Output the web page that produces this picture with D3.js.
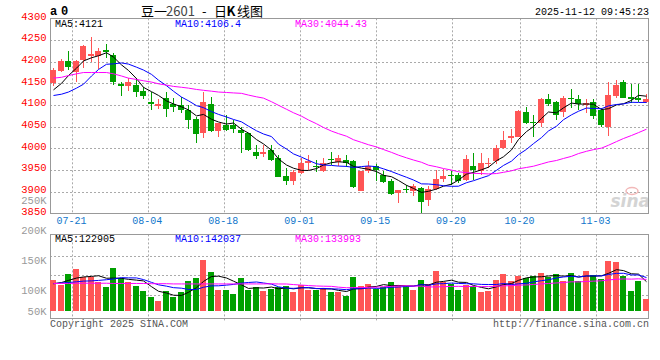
<!DOCTYPE html>
<html><head><meta charset="utf-8">
<script src="https://cdn.jsdelivr.net/npm/d3@7/dist/d3.min.js"></script>
<style>body{margin:0;background:#fff}svg{display:block}</style>
</head><body><svg id="c" width="660" height="360"></svg>
<script>
// ---------------- data ----------------
const dates = ["07-16","07-17","07-18","07-21","07-22","07-23","07-24","07-25","07-28","07-29",
"07-30","07-31","08-01","08-04","08-05","08-06","08-07","08-08","08-11","08-12",
"08-13","08-14","08-15","08-18","08-19","08-20","08-21","08-22","08-25","08-26",
"08-27","08-28","08-29","09-01","09-02","09-03","09-04","09-05","09-08","09-09",
"09-10","09-11","09-12","09-15","09-16","09-17","09-18","09-19","09-22","09-23",
"09-24","09-25","09-26","09-29","09-30","10-09","10-10","10-13","10-14","10-15",
"10-16","10-17","10-20","10-21","10-22","10-23","10-24","10-27","10-28","10-29",
"10-30","10-31","11-03","11-04","11-05","11-06","11-07","11-10","11-11","11-12"];
const open  = [4150,4179,4202,4177,4204,4214,4214,4227,4215,4148, 4145,4146,4133,4108,4098,4117,4102,4100,4089,4068,
4035,4102,4040,4054,4055,4042,4035,3992,3988,3996, 3977,3936,3926,3944,3966,3960,3949,3976,3969,3973,
3970,3903,3947,3960,3939,3925,3897,3907,3902,3908, 3881,3906,3930,3939,3939,3927,3960,3949,3966,3972,
4000,4025,4027,4085,4062,4058,4113,4106,4083,4117, 4113,4100,4108,4089,4050,4121,4152,4118,4116,4108];
const high  = [4186,4206,4225,4205,4238,4258,4231,4241,4219,4154, 4162,4162,4142,4131,4113,4131,4116,4118,4100,4072,
4131,4118,4059,4077,4065,4050,4036,4008,4008,4008, 3985,3954,3950,3977,3985,3973,3977,3992,3986,3985,
3973,3948,3970,3963,3949,3929,3905,3916,3918,3910, 3914,3950,3952,3947,3943,3985,3990,3990,3977,4008,
4040,4044,4089,4095,4077,4116,4126,4110,4121,4137, 4123,4113,4113,4093,4152,4158,4158,4149,4149,4125];
const low   = [4144,4177,4181,4152,4185,4200,4183,4208,4146,4121, 4132,4119,4114,4089,4092,4073,4085,4081,4044,4012,
4025,4038,4027,4041,4035,3989,3994,3976,3981,3971, 3933,3916,3916,3942,3950,3946,3946,3962,3960,3958,
3908,3901,3943,3925,3921,3893,3875,3897,3890,3852, 3867,3904,3923,3916,3921,3926,3927,3939,3954,3964,
3998,4013,4026,4056,4027,4050,4098,4066,4072,4093, 4089,4081,4068,4050,4029,4116,4116,4104,4106,4104];
const close = [4181,4202,4188,4202,4235,4218,4225,4223,4152,4145, 4154,4131,4122,4102,4102,4091,4096,4089,4066,4033,
4108,4040,4058,4042,4045,4036,3996,3983,3992,3973, 3935,3926,3946,3967,3972,3957,3967,3973,3977,3966,
3910,3947,3960,3950,3923,3894,3904,3904,3914,3877, 3907,3930,3937,3937,3925,3975,3950,3967,3967,4000,
4020,4029,4087,4058,4058,4114,4103,4077,4116,4113, 4102,4104,4075,4054,4123,4146,4117,4114,4112,4113];
const volume = [131000,109000,156000,178000,145000,142000,124000,102000,182000,139000,
121000,107000,85000,60000,41000,84000,60000,80000,127000,139000,
217000,165000,88000,88000,71000,139000,88000,101000,84000,92000,
101000,107000,81000,109000,88000,88000,98000,81000,78000,63000,
144000,105000,114000,91000,102000,122000,109000,105000,88000,131000,
114000,169000,122000,114000,88000,109000,105000,80000,84000,131000,
156000,127000,148000,139000,148000,161000,144000,156000,127000,161000,
127000,169000,152000,135000,212000,206000,149000,84000,128000,50000];
const priceMa5Head  = [4135,4150,4168,4185];
const priceMa10Head = [4122,4125,4130,4139,4148,4167,4182,4194,4195];
const priceMa30Head = [4162,4164,4168,4172,4175,4175,4175,4175,4172,4167,4162,4159,4156,4153,4149,
4146,4143,4141,4139,4136,4134,4132,4130,4129,4128,4127,4123,4119,4116];
const volMa5Head  = [115000,120000,129000,139000];
const volMa10Head = [115000,118000,120000,123000,126000,127000,129000,132000,135000];
const volMa30Head = [116000,116000,116000,117000,117000,117000,117000,117000,116000,116000,116000,116000,116000,115000,
115000,115000,114000,114000,114000,114000,114000,114000,114000,114000,114000,114000,114000,114000,114000];
const priceTicks = [3850,3900,3950,4000,4050,4100,4150,4200,4250,4300];
const priceGrid  = [3900,3950,4000,4050,4100,4150,4200,4250];
const volTicks   = [50000,100000,150000,200000,250000];
const volTickLabels = ["50K","100K","150K","200K","250K"];
const dateTicks  = ["07-21","08-04","08-18","09-01","09-15","09-29","10-20","11-03"];
const priceLegend = ["MA5:4121","MA10:4106.4","MA30:4044.43"];
const volLegend   = ["MA5:122905","MA10:142037","MA30:133993"];
const timeStamp = "2025-11-12 09:45:23";
const titleParts = ["豆一", "2601", "-", "日", "K", "线图"];

// ---------------- drawing ----------------
const svg = d3.select("#c");
const MONO = "'Liberation Mono','DejaVu Sans Mono',monospace";
const RED = "#ff5555", GREEN = "#00a000", GRID = "#aaaaaa", FRAME = "#999999";
const N = dates.length;
const L = 50, R = 650, PT = 18.3, PB = 213.5, VT = 234.4, VB = 318, VBASE = 310.7;

const x = d3.scaleBand().domain(d3.range(N)).range([L, R]);
const xt = d3.scaleLinear().domain([0, N - 1]).range([L - 0.4, R - 0.4]);
const y = d3.scaleLinear().domain([3850, 4300]).range([PB, PT]);
const vy = d3.scaleLinear().domain([0, 325000]).range([VBASE, VT]);
const vLab = d3.scaleLinear().domain([100000, 150000]).range([290.7, 260.7]);
const bw = 6;
const cx = i => Math.round(x(i)) + 3;

function ma(arr, n, head) {
  return arr.map((v, i) => i < head.length ? head[i] : d3.mean(arr.slice(i - n + 1, i + 1)));
}
const crisp = v => Math.round(v) + 0.5;

// grid - price panel
const g = svg.append("g");
g.selectAll(".hg").data(priceGrid).enter().append("line")
  .attr("x1", L).attr("x2", R - 1).attr("y1", d => crisp(y(d))).attr("y2", d => crisp(y(d)))
  .attr("stroke", GRID).attr("stroke-dasharray", "2,2");
const tickIdx = dateTicks.map(t => dates.indexOf(t));
g.selectAll(".vg").data(tickIdx).enter().append("line")
  .attr("x1", d => crisp(xt(d))).attr("x2", d => crisp(xt(d)))
  .attr("y1", PT).attr("y2", PB).attr("stroke", GRID).attr("stroke-dasharray", "2,2");
// grid - volume panel
const vGridFrac = [0.25, 0.5, 0.75];
g.selectAll(".vhg").data(vGridFrac).enter().append("line")
  .attr("x1", L).attr("x2", R - 1)
  .attr("y1", d => crisp(236 + d * 78)).attr("y2", d => crisp(236 + d * 78))
  .attr("stroke", GRID).attr("stroke-dasharray", "2,2");
g.selectAll(".vvg").data(tickIdx).enter().append("line")
  .attr("x1", d => crisp(xt(d))).attr("x2", d => crisp(xt(d)))
  .attr("y1", VT).attr("y2", VB + 4).attr("stroke", GRID).attr("stroke-dasharray", "2,2");

// watermark
const wm = svg.append("g");
wm.append("ellipse").attr("cx", 632).attr("cy", 191).attr("rx", 6).attr("ry", 3.5)
  .attr("fill", "none").attr("stroke", "#f2b8b8").attr("stroke-width", 1.5);
wm.append("text").attr("x", 650).attr("y", 207).attr("text-anchor", "end")
  .attr("font-family", "'DejaVu Sans',sans-serif").attr("font-size", 17).attr("font-weight", "bold")
  .attr("font-style", "italic").attr("fill", "#d4d4d4").text("sina");

// frames
svg.append("rect").attr("x", L + 0.5).attr("y", 18.5).attr("width", R - L - 2).attr("height", 195)
  .attr("fill", "none").attr("stroke", FRAME);
svg.append("rect").attr("x", L + 0.5).attr("y", 234.5).attr("width", R - L - 2).attr("height", 84)
  .attr("fill", "none").attr("stroke", FRAME);

// candles
const idx = d3.range(N);
const cg = svg.append("g");
cg.selectAll(".wick").data(idx).enter().append("rect")
  .attr("x", i => cx(i)).attr("width", 1)
  .attr("y", i => Math.round(y(high[i])))
  .attr("height", i => Math.max(1, Math.round(y(low[i])) - Math.round(y(high[i]))))
  .attr("fill", i => close[i] >= open[i] ? RED : GREEN);
cg.selectAll(".body").data(idx).enter().append("rect")
  .attr("x", i => Math.round(x(i))).attr("width", bw)
  .attr("y", i => Math.round(y(Math.max(open[i], close[i]))))
  .attr("height", i => Math.max(1, Math.round(y(Math.min(open[i], close[i]))) - Math.round(y(Math.max(open[i], close[i])))))
  .attr("fill", i => close[i] >= open[i] ? RED : GREEN);

// price MAs
const pLine = d3.line().x((d, i) => cx(i) + 0.5).y(d => y(d));
[[ma(close, 5, priceMa5Head), "#000"], [ma(close, 10, priceMa10Head), "#0000ff"], [ma(close, 30, priceMa30Head), "#ff00ff"]]
  .forEach(([s, c]) => svg.append("path").attr("d", pLine(s)).attr("fill", "none").attr("stroke", c).attr("stroke-width", 1));

// volume bars
svg.append("g").selectAll("rect").data(idx).enter().append("rect")
  .attr("x", i => Math.round(x(i))).attr("width", bw)
  .attr("y", i => Math.round(vy(volume[i])))
  .attr("height", i => Math.round(vy(0)) - Math.round(vy(volume[i])))
  .attr("fill", i => close[i] >= open[i] ? RED : GREEN);
const vLine = d3.line().x((d, i) => cx(i) + 0.5).y(d => vy(d));
[[ma(volume, 5, volMa5Head), "#000"], [ma(volume, 10, volMa10Head), "#0000ff"], [ma(volume, 30, volMa30Head), "#ff00ff"]]
  .forEach(([s, c]) => svg.append("path").attr("d", vLine(s)).attr("fill", "none").attr("stroke", c).attr("stroke-width", 1));

// axis labels
const t = svg.append("g").attr("font-family", MONO);
t.selectAll(".pl").data(priceTicks).enter().append("text")
  .attr("x", 46.5).attr("y", d => y(d) + 1.2).attr("text-anchor", "end")
  .attr("font-size", 10.5).attr("fill", "#ff0000").text(d => d);
t.selectAll(".vl").data(volTicks).enter().append("text")
  .attr("x", 46.5).attr("y", d => Math.min(vLab(d), 311) + 3.5).attr("text-anchor", "end")
  .attr("font-size", 10.5).attr("fill", "#999").text((d, i) => volTickLabels[i]);
t.selectAll(".dl").data(tickIdx).enter().append("text")
  .attr("x", d => xt(d) - 1).attr("y", 224).attr("text-anchor", "middle")
  .attr("font-size", 10).attr("fill", "#1177cc").text((d, i) => dateTicks[i]);

// legends
const legX = [55, 175, 295], legC = ["#000", "#0000ff", "#ff00ff"];
t.selectAll(".lg").data(priceLegend).enter().append("text")
  .attr("x", (d, i) => legX[i]).attr("y", 26.5).attr("font-size", 10).attr("fill", (d, i) => legC[i]).text(d => d);
t.selectAll(".vlg").data(volLegend).enter().append("text")
  .attr("x", (d, i) => legX[i]).attr("y", 241.7).attr("font-size", 10).attr("fill", (d, i) => legC[i]).text(d => d);

// header
t.append("text").attr("x", 50).attr("y", 15).attr("font-size", 12).attr("font-weight", "bold").text("a");
t.append("text").attr("x", 61).attr("y", 15).attr("font-size", 12).attr("font-weight", "bold").text("0");
const titleX = [141, 166, 202, 214, 226.5, 237];
const titleFill = ["#000", "#444", "#000", "#000", "#000", "#000"];
const titleWeight = ["normal", "normal", "normal", "normal", "bold", "normal"];
svg.append("g").selectAll("text").data(titleParts).enter().append("text")
  .attr("x", (d, i) => titleX[i]).attr("y", 16)
  .attr("font-family", "'Noto Sans CJK SC',sans-serif").attr("font-size", 13)
  .attr("fill", (d, i) => titleFill[i]).attr("font-weight", (d, i) => titleWeight[i]).text(d => d);
t.append("text").attr("x", 649).attr("y", 15).attr("text-anchor", "end").attr("font-size", 10)
  .attr("fill", "#000").text(timeStamp);
t.append("text").attr("x", 50).attr("y", 326.7).attr("font-size", 10).attr("fill", "#555").text("Copyright 2025 SINA.COM");
t.append("text").attr("x", 649).attr("y", 326.7).attr("text-anchor", "end").attr("font-size", 10).attr("fill", "#555").text("http://finance.sina.com.cn");
</script></body></html>
